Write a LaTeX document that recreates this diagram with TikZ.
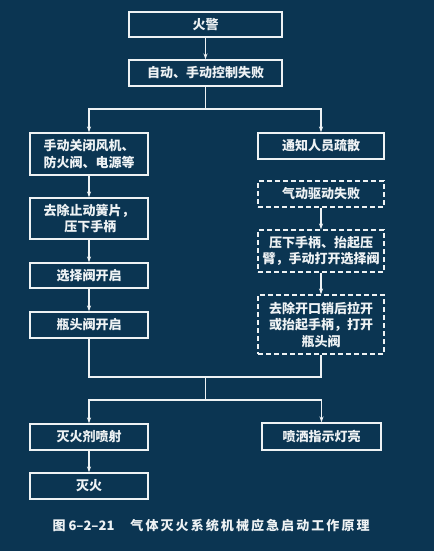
\documentclass[tikz,border=0pt]{standalone}
\usepackage{fontspec}
\setmainfont{Noto Sans CJK SC}
\usetikzlibrary{arrows.meta}
\definecolor{bg}{HTML}{0B3552}
\definecolor{fg}{HTML}{EEF2F4}
\tikzset{
  box/.style={draw=fg, line width=1.1pt, text=fg, rectangle, inner sep=0pt,
     align=center, font=\fontsize{13}{16.5}\selectfont\bfseries},
  dbox/.style={box, dash pattern=on 5pt off 3pt},
  conn/.style={draw=fg, line width=1.1pt},
  arr/.style={conn, -{Stealth[length=6pt,width=4pt]}},
}
\begin{document}
\begin{tikzpicture}[x=1pt,y=-1pt]
\fill[bg] (0,0) rectangle (434,551);
\useasboundingbox (0,0) rectangle (434,551);
\node[box, minimum width=153pt, minimum height=25pt] (alarm) at (205.5,24.5) {火警};
\node[box, minimum width=153pt, minimum height=26pt] (fail) at (205.5,73) {自动、手动控制失败};
\node[box, minimum width=118pt, minimum height=42pt] (L1) at (89,154) {手动关闭风机、\\防火阀、电源等};
\node[box, minimum width=126pt, minimum height=26pt] (R1) at (321,146) {通知人员疏散};
\node[box, minimum width=118pt, minimum height=41pt] (L2) at (89,218.5) {去除止动簧片，\\\ 压下手柄};
\node[dbox, minimum width=126pt, minimum height=26pt] (R2) at (321,194) {气动驱动失败};
\node[dbox, minimum width=126pt, minimum height=42pt] (R3) at (321,251) {压下手柄、抬起压\\臂，手动打开选择阀};
\node[box, minimum width=118pt, minimum height=25pt] (L3) at (89,275.5) {选择阀开启};
\node[box, minimum width=118pt, minimum height=26pt] (L4) at (89,325) {瓶头阀开启};
\node[dbox, minimum width=126pt, minimum height=59pt] (R4) at (321,324.5) {去除开口销后拉开\\或抬起手柄，打开\\瓶头阀};
\node[box, minimum width=118pt, minimum height=26pt] (L5) at (89,437) {灭火剂喷射};
\node[box, minimum width=119pt, minimum height=27pt] (R5) at (321.5,436.5) {喷洒指示灯亮};
\node[box, minimum width=118pt, minimum height=26pt] (L6) at (89,486) {灭火};
\node[text=fg, font=\fontsize{13}{15}\selectfont\bfseries, anchor=west] (cap) at (49,526)
  {图 6–2–21\hspace{16pt}{\addfontfeature{LetterSpace=16}气体灭火系统机械应急启动工作原理}};
\coordinate (s1) at (205.5,109);
\coordinate (m) at (205.5,377);
\coordinate (s2) at (205.5,400);
\draw[arr] (alarm) -- (fail);
\draw[conn] (fail) -- (s1);
\draw[arr] (s1) -| (L1.north);
\draw[arr] (s1) -| (R1.north);
\draw[arr] (L1) -- (L2);
\draw[arr] (L2) -- (L3);
\draw[arr] (L3) -- (L4);
\draw[arr] (R2) -- (R3);
\draw[arr] (R3) -- (R4);
\draw[conn] (L4.south) |- (m) -| (R4.south);
\draw[conn] (m) -- (s2);
\draw[arr] (s2) -| (L5.north);
\draw[arr] (s2) -| (R5.north);
\draw[arr] (L5) -- (L6);
\end{tikzpicture}
\end{document}
